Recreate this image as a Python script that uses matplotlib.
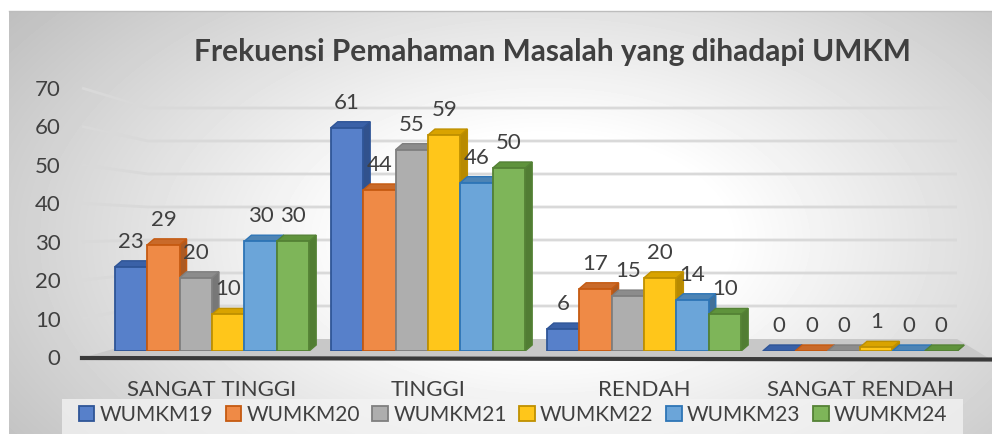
import numpy as np
import matplotlib
matplotlib.use("Agg")
import matplotlib.pyplot as plt
from matplotlib.patches import Polygon, Patch
from matplotlib.colors import to_rgb

plt.rcParams["font.family"] = ["Lato", "DejaVu Sans"]

# ── data ──────────────────────────────────────────────────────────────────────
categories = ["SANGAT TINGGI", "TINGGI", "RENDAH", "SANGAT RENDAH"]
series = ["WUMKM19", "WUMKM20", "WUMKM21", "WUMKM22", "WUMKM23", "WUMKM24"]
wumkm19 = [23, 61, 6, 0]
wumkm20 = [29, 44, 17, 0]
wumkm21 = [20, 55, 15, 0]
wumkm22 = [10, 59, 20, 1]
wumkm23 = [30, 46, 14, 0]
wumkm24 = [30, 50, 10, 0]
values = [wumkm19, wumkm20, wumkm21, wumkm22, wumkm23, wumkm24]
yticks = [0, 10, 20, 30, 40, 50, 60, 70]

FACE = ["#4472C4", "#ED7D31", "#A5A5A5", "#FFC000", "#5B9BD5", "#70AD47"]
EDGE = ["#2F5597", "#C55A11", "#7F7F7F", "#BF9000", "#2E75B6", "#548235"]
TXT = "#404040"

W, H = 992, 434
fig = plt.figure(figsize=(W / 100, H / 100), dpi=100)
fig.patch.set_facecolor("white")

def fx(px):
    return px / W

def fy(py):
    return 1 - py / H

def shade(c, k):
    r, g, b = to_rgb(c)
    if k < 1:
        return (r * k, g * k, b * k)
    return (r + (1 - r) * (k - 1), g + (1 - g) * (k - 1), b + (1 - b) * (k - 1))

# ── background (pixel space) ─────────────────────────────────────────────────
bg = fig.add_axes([0, 0, 1, 1], zorder=0)
bg.set_xlim(0, W)
bg.set_ylim(H, 0)
bg.axis("off")
yy, xx = np.mgrid[11:H, 9:W]
d = np.sqrt(((xx - 545) / 520.0) ** 2 + ((yy - 240) / 300.0) ** 2)
val = 1 - 0.27 * np.clip(d - 0.35, 0, None)
bg.imshow(val, cmap="gray", vmin=0, vmax=1, extent=(9, W, H, 11),
          aspect="auto", interpolation="bilinear")
bg.plot([9, W], [11, 11], color="#bdbdbd", lw=1)

# back-wall gridlines with a short perspective tail
for v in yticks[1:]:
    ylab = 357 - 3.843 * v
    yback = 339 - 3.3 * v
    bg.plot([82, 148, 957], [ylab, yback, yback], color="#d9d9d9", lw=2,
            solid_capstyle="butt")

# floor
bg.add_patch(Polygon([(82, 358), (148, 339), (957, 339), (990, 359)],
                     closed=True, facecolor="#c8c8c8", edgecolor="none"))
bg.plot([82, 990], [358, 359.5], color="#3a3a3a", lw=3)

# legend backdrop
bg.add_patch(Polygon([(62, 399), (963, 399), (963, H), (62, H)], closed=True,
                     facecolor="#f4f4f4", edgecolor="none", alpha=0.75))

# ── bars ──────────────────────────────────────────────────────────────────────
ax = fig.add_axes([fx(80), fy(351), (990 - 80) / W, (351 - 94.8) / H], zorder=2)
ax.patch.set_alpha(0)
for s in ax.spines.values():
    s.set_visible(False)
ax.set_xlim(-0.611, 3.602)
ax.set_ylim(0, 70)
ax.set_yticks([])
ax.set_xticks(range(len(categories)), categories)
ax.tick_params(axis="x", length=0, pad=21, labelsize=16, labelcolor=TXT)

w = 0.15
ddx = 7 / 216.0
ddy = 6 / 3.66
x = np.arange(len(categories))
for i, vals in enumerate(values):
    xs = x + (i - 2.5) * w
    bars = ax.bar(xs, vals, width=w, color=shade(FACE[i], 1.1),
                  edgecolor=EDGE[i], lw=1.3)
    for j, (b, v) in enumerate(zip(bars, vals)):
        z = 3 + j * 20 + i * 2
        x0 = b.get_x()
        x1 = x0 + w
        side = Polygon([(x1, 0), (x1 + ddx, ddy), (x1 + ddx, v + ddy), (x1, v)],
                       closed=True, facecolor=shade(FACE[i], 0.72),
                       edgecolor=EDGE[i], lw=1, zorder=z)
        top = Polygon([(x0, v), (x1, v), (x1 + ddx, v + ddy), (x0 + ddx, v + ddy)],
                      closed=True, facecolor=shade(FACE[i], 0.85),
                      edgecolor=EDGE[i], lw=1, zorder=z)
        ax.add_patch(side)
        ax.add_patch(top)
        b.set_zorder(z + 1)
        ax.annotate(str(v), (b.get_x() + w / 2, v), xytext=(0, 18),
                    textcoords="offset points", ha="center", va="center",
                    fontsize=16, color=TXT, zorder=200, annotation_clip=False)

# ── y tick labels ─────────────────────────────────────────────────────────────
tax = fig.add_axes([fx(80), fy(357), 0.01, (357 - 88) / H], zorder=1)
tax.patch.set_alpha(0)
for s in tax.spines.values():
    s.set_visible(False)
tax.set_ylim(0, 70)
tax.set_xticks([])
tax.set_yticks(yticks)
tax.tick_params(axis="y", length=0, pad=14, labelsize=16, labelcolor=TXT)

# ── title & legend ────────────────────────────────────────────────────────────
fig.text(fx(552), fy(52), "Frekuensi Pemahaman Masalah yang dihadapi UMKM",
         ha="center", va="center", fontsize=21.5, fontweight="bold", color=TXT)

handles = [Patch(facecolor=shade(FACE[i], 1.1), edgecolor=EDGE[i], lw=1.3)
           for i in range(6)]
fig.legend(handles, series, loc="center", bbox_to_anchor=(fx(513), fy(415)),
           ncol=6, frameon=False, fontsize=15, labelcolor=TXT,
           handlelength=0.75, handleheight=0.75, handletextpad=0.25,
           columnspacing=0.6)

fig.savefig("out.png", dpi=100)
